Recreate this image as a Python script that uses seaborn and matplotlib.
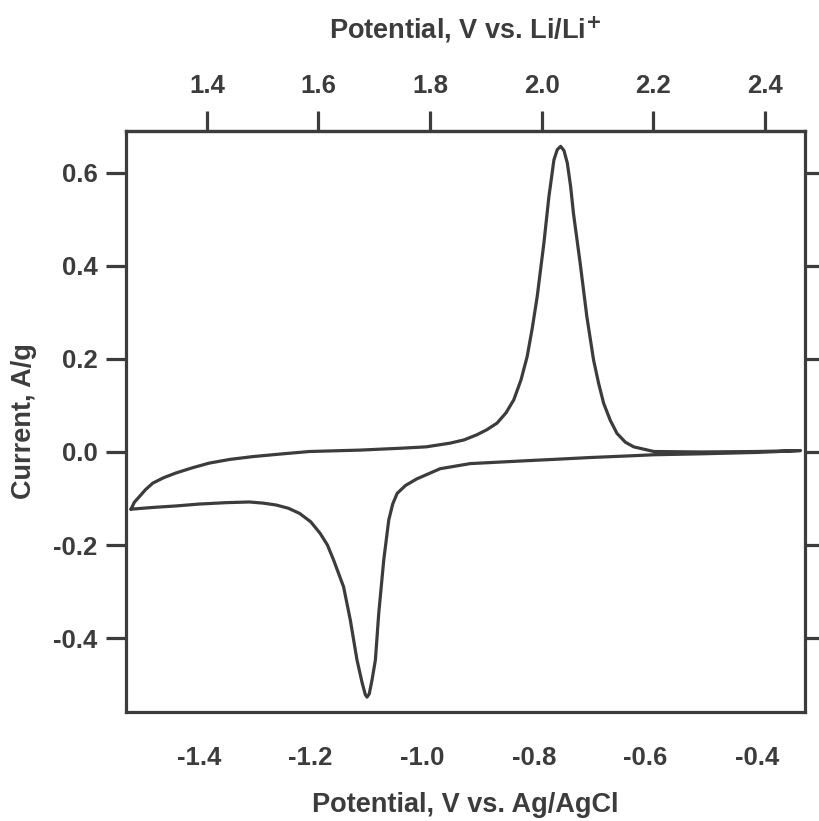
import numpy as np
import pandas as pd
import matplotlib
matplotlib.use("Agg")
import matplotlib.pyplot as plt
import seaborn as sns

# Anodic sweep (left vertex -> right vertex), V vs Ag/AgCl and A/g
E_anodic = [-1.522, -1.516, -1.507, -1.496, -1.483, -1.463, -1.441, -1.412, -1.382,
            -1.345, -1.304, -1.250, -1.202, -1.112, -1.039,
            -0.993, -0.950, -0.925, -0.902, -0.884, -0.866, -0.850, -0.836, -0.823,
            -0.812, -0.803, -0.794, -0.782, -0.773,
            -0.764, -0.758, -0.752, -0.746, -0.740, -0.734, -0.729, -0.717, -0.705, -0.693,
            -0.684, -0.675, -0.663, -0.651, -0.636, -0.621, -0.585, -0.501, -0.400, -0.322]
I_anodic = [-0.123, -0.108, -0.096, -0.081, -0.067, -0.055, -0.045, -0.034, -0.024,
            -0.016, -0.010, -0.004, 0.001, 0.004, 0.008,
            0.011, 0.019, 0.026, 0.037, 0.048, 0.062, 0.084, 0.112, 0.155,
            0.205, 0.265, 0.334, 0.449, 0.549,
            0.628, 0.650, 0.657, 0.648, 0.621, 0.570, 0.513, 0.406, 0.291, 0.198,
            0.148, 0.105, 0.068, 0.040, 0.021, 0.011, 0.001, 0.000, 0.001, 0.003]

# Cathodic sweep (right vertex -> left vertex)
E_cathodic = [-0.322, -0.400, -0.501, -0.585, -0.621, -0.700, -0.765, -0.800, -0.914,
              -0.968, -1.010, -1.030, -1.045, -1.053, -1.060, -1.069, -1.078, -1.084,
              -1.090, -1.095, -1.099, -1.102, -1.108, -1.117, -1.129, -1.141, -1.159,
              -1.170, -1.183, -1.200, -1.220, -1.240, -1.262, -1.285, -1.310, -1.352,
              -1.400, -1.441, -1.480, -1.522]
I_cathodic = [0.003, -0.001, -0.004, -0.006, -0.008, -0.012, -0.016, -0.018, -0.025,
              -0.036, -0.058, -0.072, -0.089, -0.112, -0.146, -0.232, -0.347, -0.447,
              -0.490, -0.520, -0.527, -0.522, -0.495, -0.447, -0.361, -0.290, -0.232,
              -0.200, -0.175, -0.150, -0.132, -0.121, -0.114, -0.110, -0.1075, -0.109,
              -0.112, -0.116, -0.119, -0.123]

bottom_ticks = [-1.4, -1.2, -1.0, -0.8, -0.6, -0.4]
top_ticks = [1.4, 1.6, 1.8, 2.0, 2.2, 2.4]
y_ticks = [-0.4, -0.2, 0.0, 0.2, 0.4, 0.6]
offset_li = 2.786  # V vs Li/Li+ = V vs Ag/AgCl + offset

df = pd.DataFrame({
    "E": E_anodic + E_cathodic,
    "I": I_anodic + I_cathodic,
})

sns.set_theme(style="white")
plt.rcParams["font.family"] = ["Liberation Sans", "DejaVu Sans"]
plt.rcParams["font.weight"] = "bold"

col = "#3c3c3c"
fig = plt.figure(figsize=(8.19, 8.21), dpi=100)
ax = fig.add_axes([126 / 819, 1 - 712 / 821, (805 - 126) / 819, (712 - 131) / 821])

sns.lineplot(data=df, x="E", y="I", sort=False, estimator=None, ax=ax,
             color=col, linewidth=2.3)

ax.set_xlim(-1.531, -0.314)
ax.set_ylim(-0.559, 0.690)
ax.set_xticks(bottom_ticks)
ax.set_xticklabels([f"{t:.1f}" for t in bottom_ticks])
ax.set_yticks(y_ticks)
ax.set_yticklabels([f"{t:.1f}" for t in y_ticks])

for s in ax.spines.values():
    s.set_color(col)
    s.set_linewidth(2.3)
    s.set_visible(True)

fs_tick = 18.5
fs_lab = 19.5
ax.tick_params(axis="both", which="major", direction="out", length=14.5, width=2.3,
               color=col, labelcolor=col, labelsize=fs_tick)
ax.tick_params(axis="x", pad=10)
ax.tick_params(axis="y", pad=6, right=True, left=True)

ax.set_xlabel("Potential, V vs. Ag/AgCl", fontsize=fs_lab, fontweight="bold", color=col, labelpad=16)
ax.set_ylabel("Current, A/g", fontsize=fs_lab, fontweight="bold", color=col, labelpad=12)

top = ax.secondary_xaxis("top", functions=(lambda x: x + offset_li, lambda x: x - offset_li))
top.set_xticks(top_ticks)
top.set_xticklabels([f"{t:.1f}" for t in top_ticks])
top.tick_params(direction="out", length=14.5, width=2.3, color=col, labelcolor=col,
                labelsize=fs_tick, pad=9)
top.spines["top"].set_color(col)
top.spines["top"].set_linewidth(2.3)
top.set_xlabel("Potential, V vs. Li/Li$^{\\mathbf{+}}$", fontsize=fs_lab, fontweight="bold",
               color=col, labelpad=26)

fig.savefig("out.png", dpi=100, facecolor="white")
